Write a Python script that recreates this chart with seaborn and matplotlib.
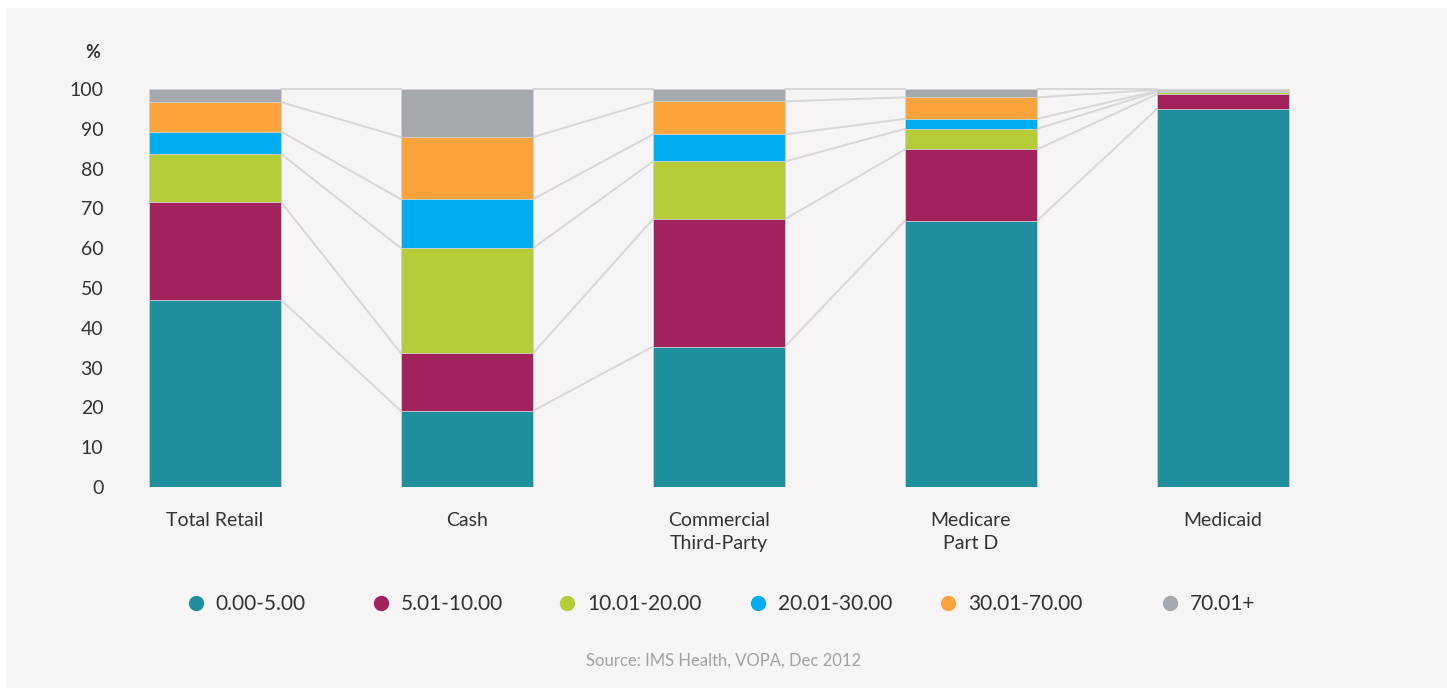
import numpy as np
import pandas as pd
import seaborn as sns
from matplotlib import pyplot as plt
from matplotlib.lines import Line2D
from matplotlib.patches import Rectangle

# Channels and copay bands
channels = ["Total Retail", "Cash", "Commercial\nThird-Party", "Medicare\nPart D", "Medicaid"]
bands = ["0.00-5.00", "5.01-10.00", "10.01-20.00", "20.01-30.00", "30.01-70.00", "70.01+"]
band_colors = ["#1f8f9e", "#a2225c", "#b5cb38", "#00aeef", "#fba43b", "#a5a8ac"]

# Share of prescriptions (%) in each copay band, per channel
share_0_5 = [47.0, 19.1, 35.3, 66.9, 95.0]
share_5_10 = [24.6, 14.5, 32.0, 17.9, 3.7]
share_10_20 = [12.1, 26.4, 14.5, 5.2, 0.6]
share_20_30 = [5.6, 12.3, 6.8, 2.5, 0.2]
share_30_70 = [7.4, 15.6, 8.3, 5.4, 0.3]
share_70_plus = [3.3, 12.1, 3.1, 2.1, 0.2]

BG = "#f6f4f5"
TEXT = "#333333"
BAR_W = 0.524

sns.set_style("white")
plt.rcParams["font.family"] = ["Lato", "DejaVu Sans"]

df = pd.DataFrame(
    dict(zip(bands, [share_0_5, share_5_10, share_10_20, share_20_30, share_30_70, share_70_plus])),
    index=channels,
)
cum = df.cumsum(axis=1)

W, H = 1447, 688
fig = plt.figure(figsize=(W / 100, H / 100), dpi=100, facecolor="white")
fig.patches.append(Rectangle((6 / W, 0), 1, 1 - 8 / H, transform=fig.transFigure,
                             facecolor=BG, edgecolor="none", zorder=-10))

ax = fig.add_axes([120 / W, (H - 487) / H, 1220 / W, (487 - 60) / H])
ax.set_facecolor("none")

# stacked bars: draw cumulative totals from the top band down
for band, col in reversed(list(zip(bands, band_colors))):
    sns.barplot(x=list(channels), y=cum[band].values, color=col, saturation=1,
                width=BAR_W, edgecolor="#d4d4d4", linewidth=0.6, ax=ax, zorder=2)

# connector lines between neighbouring bars
for i in range(len(channels) - 1):
    for band in bands:
        ax.plot([i + BAR_W / 2, i + 1 - BAR_W / 2],
                [cum.iloc[i][band], cum.iloc[i + 1][band]],
                color="#d8d8d8", lw=1.4, zorder=1)

ax.set_xlim((120 - 215) / 252, (1340 - 215) / 252)
ax.set_ylim(0, (487 - 60) / 3.98)
ax.set_yticks(range(0, 101, 10))
ax.set_xlabel("")
ax.set_ylabel("")
sns.despine(ax=ax, left=True, bottom=True)
ax.tick_params(axis="y", length=0, pad=12, labelsize=14, labelcolor=TEXT)
ax.tick_params(axis="x", length=0, pad=18, labelsize=14, labelcolor=TEXT)
for t in ax.get_xticklabels():
    t.set_linespacing(1.4)

fig.text(93 / W, 1 - 52 / H, "%", ha="center", va="center", fontsize=13,
         fontweight="bold", color=TEXT)

# legend entries laid out like the original
legend_x = [196, 381, 567, 758, 948, 1170]
for band, col, x in zip(bands, band_colors, legend_x):
    h = Line2D([], [], marker="o", ls="", color=col, markersize=10)
    leg = fig.legend([h], [band], loc="center left",
                     bbox_to_anchor=((x - 10.4) / W, 1 - 604 / H),
                     frameon=False, fontsize=15, handlelength=1, handletextpad=0.45,
                     borderpad=0, borderaxespad=0)
    for t in leg.get_texts():
        t.set_color(TEXT)

fig.text(724 / W, 1 - 661 / H, "Source: IMS Health, VOPA, Dec 2012",
         ha="center", va="center", fontsize=12, color="#a3a3a3")

fig.savefig("out.png", dpi=100, facecolor=fig.get_facecolor())
